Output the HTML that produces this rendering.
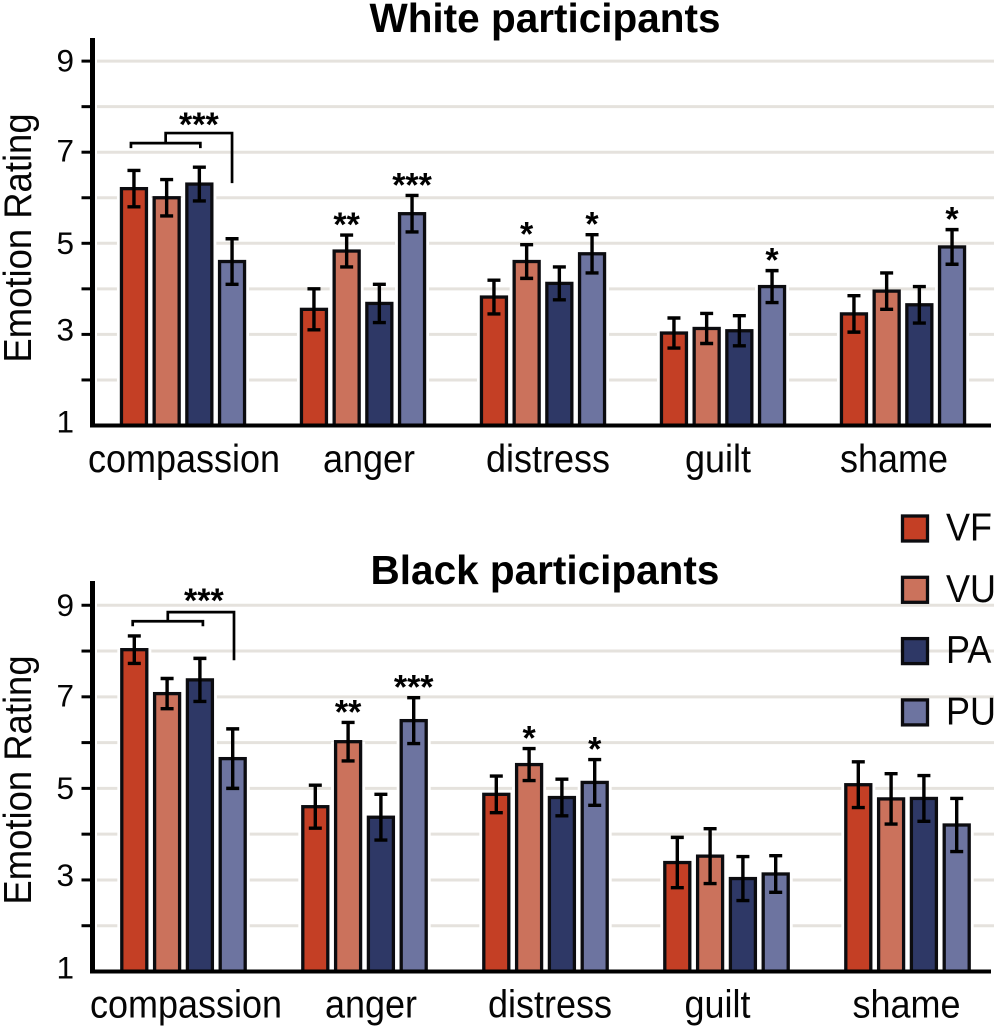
<!DOCTYPE html>
<html lang="en">
<head>
<meta charset="utf-8">
<title>Emotion ratings by participant group</title>
<style>
html,body{margin:0;padding:0;background:#fff}
svg{display:block;font-family:"Liberation Sans",Arial,sans-serif}
</style>
</head>
<body>
<svg id="chart" width="995" height="1027" viewBox="0 0 995 1027" xmlns="http://www.w3.org/2000/svg"></svg>
<script>
const categories = ['compassion', 'anger', 'distress', 'guilt', 'shame'];
const seriesNames = ['VF', 'VU', 'PA', 'PU'];
const yTicks = [1, 2, 3, 4, 5, 6, 7, 8, 9];
const yTickLabels = ['1', '', '3', '', '5', '', '7', '', '9'];

// White participants: one array per series, ordered as categories
const whiteVF = [6.2, 3.55, 3.82, 3.03, 3.45];
const whiteVU = [6.0, 4.83, 4.6, 3.13, 3.95];
const whitePA = [6.3, 3.68, 4.12, 3.08, 3.65];
const whitePU = [4.6, 5.65, 4.77, 4.05, 4.92];
const whiteErrVF = [0.4, 0.45, 0.37, 0.33, 0.4];
const whiteErrVU = [0.4, 0.35, 0.37, 0.33, 0.4];
const whiteErrPA = [0.37, 0.42, 0.36, 0.33, 0.4];
const whiteErrPU = [0.5, 0.4, 0.42, 0.35, 0.38];
const whiteStarsVU = ['', '**', '*', '', ''];
const whiteStarsPU = ['', '***', '*', '*', '*'];

// Black participants
const blackVF = [8.03, 4.6, 4.87, 3.38, 5.08];
const blackVU = [7.07, 6.02, 5.52, 3.52, 4.77];
const blackPA = [7.37, 4.37, 4.8, 3.03, 4.78];
const blackPU = [5.65, 6.48, 5.13, 3.13, 4.2];
const blackErrVF = [0.3, 0.47, 0.4, 0.55, 0.5];
const blackErrVU = [0.33, 0.42, 0.35, 0.6, 0.55];
const blackErrPA = [0.47, 0.5, 0.4, 0.48, 0.5];
const blackErrPU = [0.65, 0.5, 0.5, 0.4, 0.58];
const blackStarsVU = ['', '**', '*', '', ''];
const blackStarsPU = ['', '***', '*', '', ''];

const colors = ['#c43f25', '#cb725c', '#2e3866', '#6d74a0'];
const NS = 'http://www.w3.org/2000/svg';
const svg = document.getElementById('chart');
const INK = '#050505';

function node(parent, tag, attrs, text) {
  const el = document.createElementNS(NS, tag);
  for (const k in attrs) el.setAttribute(k, attrs[k]);
  if (text !== undefined) el.textContent = text;
  parent.appendChild(el);
  return el;
}

function tickLabelShift(t) {
  if (t === 9) return -0.5;
  if (t === 7) return -1.5;
  if (t === 5) return -0.5;
  if (t === 3) return -5;
  return -4;
}

function drawPanel(cfg) {
  const g = node(svg, 'g', {});
  
  

  const yScale = v => cfg.yBase - (v - 1) * cfg.unit;
  const groupX = i => cfg.x0 + cfg.step * i;
  const barX = (i, s) => groupX(i) + (s - 1.5) * cfg.barStep;

  // gridlines
  yTicks.forEach(t => {
    if (t === 1) return;
    const line = node(g, 'line', {x1: 97, x2: 994, y1: yScale(t), y2: yScale(t), stroke: '#e5e2dd', 'stroke-width': 3});
    
    
  });

  // title
  const title = node(g, 'text', {x: 545, y: cfg.titleY, 'text-anchor': 'middle', 'font-size': 40.5, 'font-weight': 'bold', fill: '#000'}, cfg.title);
  
  

  // y axis title
  const yt = node(g, 'text', {transform: 'translate(31,' + cfg.yTitleY + ') rotate(-90) scale(0.93,1)', 'text-anchor': 'middle', 'font-size': 39.2, fill: INK}, 'Emotion Rating');
  
  

  // white halo under bars (keeps gridlines out of the gaps)
  categories.forEach((cat, i) => {
    seriesNames.forEach((name, s) => {
      const top = yScale(cfg.values[s][i]);
      const halo = node(g, 'rect', {x: barX(i, s) - 17, y: top, width: 34, height: cfg.yBase - top, fill: '#fff'});
      
      
    });
  });

  // bars and error bars
  categories.forEach((cat, i) => {
    seriesNames.forEach((name, s) => {
      const v = cfg.values[s][i];
      const e = cfg.errors[s][i];
      const cx = barX(i, s);
      const top = yScale(v);
      const bar = node(g, 'rect', {x: cx - cfg.barW / 2, y: top, width: cfg.barW, height: cfg.yBase - top, fill: colors[s], stroke: '#0c0c10', 'stroke-width': 3.3});
      
      

      const err = node(g, 'path', {
        d: 'M' + cx + ' ' + yScale(v + e) + 'V' + yScale(v - e) +
           'M' + (cx - 6.5) + ' ' + yScale(v + e) + 'H' + (cx + 6.5) +
           'M' + (cx - 6.5) + ' ' + yScale(v - e) + 'H' + (cx + 6.5),
        fill: 'none', stroke: '#000', 'stroke-width': 3.4
      });
      
      

      const star = cfg.stars[s] ? cfg.stars[s][i] : '';
      if (star) {
        const st = node(g, 'text', {x: cx, y: yScale(v + e) + 1, 'text-anchor': 'middle', 'font-size': 34, 'font-weight': 'bold', fill: '#000'}, star);
        
        
      }
    });
  });

  // compassion bracket
  const lX = barX(0, 0) + cfg.bracketLeft, rX = barX(0, 2) + cfg.bracketRight, mX = (lX + rX) / 2, farX = barX(0, 3) + cfg.bracketFar;
  const lvl = cfg.bracket;
  const bracket = node(g, 'path', {
    d: 'M' + lX + ' ' + (yScale(lvl[0]) + 5) + 'V' + yScale(lvl[0]) + 'H' + rX + 'V' + (yScale(lvl[0]) + 5) +
       'M' + mX + ' ' + yScale(lvl[0]) + 'V' + yScale(lvl[1]) + 'H' + farX + 'V' + yScale(lvl[2]),
    fill: 'none', stroke: '#000', 'stroke-width': 2.7
  });
  
  
  const bs = node(g, 'text', {x: (mX + farX) / 2 + cfg.bracketStarDx, y: yScale(lvl[1]) + cfg.bracketStarDy, 'text-anchor': 'middle', 'font-size': 34, 'font-weight': 'bold', fill: '#000'}, '***');
  
  

  // axes
  const yAxis = node(g, 'line', {x1: 92.5, x2: 92.5, y1: cfg.axisTop, y2: cfg.yBase + 2, stroke: '#000', 'stroke-width': 5});
  
  
  const xAxis = node(g, 'line', {x1: 90, x2: 991, y1: cfg.yBase, y2: cfg.yBase, stroke: '#000', 'stroke-width': 4});
  
  

  // y ticks
  yTicks.forEach((t, idx) => {
    if (t !== 1) {
      const tick = node(g, 'line', {x1: 81.5, x2: 92, y1: yScale(t), y2: yScale(t), stroke: '#000', 'stroke-width': 3});
      
      
    }
    if (yTickLabels[idx]) {
      const lab = node(g, 'text', {x: 74, y: yScale(t) + 11 + tickLabelShift(t), 'text-anchor': 'end', 'font-size': 31.5, fill: INK}, yTickLabels[idx]);
      
      
    }
  });

  // category labels
  categories.forEach((cat, i) => {
    const lab = node(g, 'text', {transform: 'translate(' + (groupX(i) + cfg.labelNudge[i]) + ',' + cfg.labelY + ') scale(0.93,1)', 'text-anchor': 'middle', 'font-size': 38.7, fill: INK}, cat);
    
    
  });
}

drawPanel({
  key: 'white', title: 'White participants', titleY: 32, yTitleY: 238, yBase: 425.5, unit: 45.55, axisTop: 38,
  x0: 183, step: 180, barStep: 32.7, barW: 25, labelY: 472, labelNudge: [1, 6, 5, -5, -9],
  values: [whiteVF, whiteVU, whitePA, whitePU],
  errors: [whiteErrVF, whiteErrVU, whiteErrPA, whiteErrPU],
  stars: [null, whiteStarsVU, null, whiteStarsPU],
  bracket: [7.2, 7.42, 6.32],
  bracketLeft: -3, bracketRight: 1, bracketFar: 0, bracketStarDx: 0, bracketStarDy: 3
});
drawPanel({
  key: 'black', title: 'Black participants', titleY: 584, yTitleY: 780, yBase: 971.5, unit: 45.78, axisTop: 581,
  x0: 183.5, step: 181, barStep: 32.8, barW: 25, labelY: 1017.5, labelNudge: [2.5, 6.5, 4.5, -9, -1],
  values: [blackVF, blackVU, blackPA, blackPU],
  errors: [blackErrVF, blackErrVU, blackErrPA, blackErrPU],
  stars: [null, blackStarsVU, null, blackStarsPU],
  bracket: [8.65, 8.85, 7.8],
  bracketLeft: -1.6, bracketRight: 3, bracketFar: 1.3, bracketStarDx: 3, bracketStarDy: 0
});

// legend
const legend = node(svg, 'g', {});


seriesNames.forEach((name, s) => {
  const top = 516 + s * 61.3;
  const sw = node(legend, 'rect', {x: 902.5, y: top, width: 25, height: 25, fill: colors[s], stroke: '#0c0c10', 'stroke-width': 3.3});
  
  
  const t = node(legend, 'text', {transform: 'translate(946,' + (top + 24.5) + ') scale(0.93,1)', 'font-size': 38.7, fill: INK}, name);
  
  
});
</script>
</body>
</html>
